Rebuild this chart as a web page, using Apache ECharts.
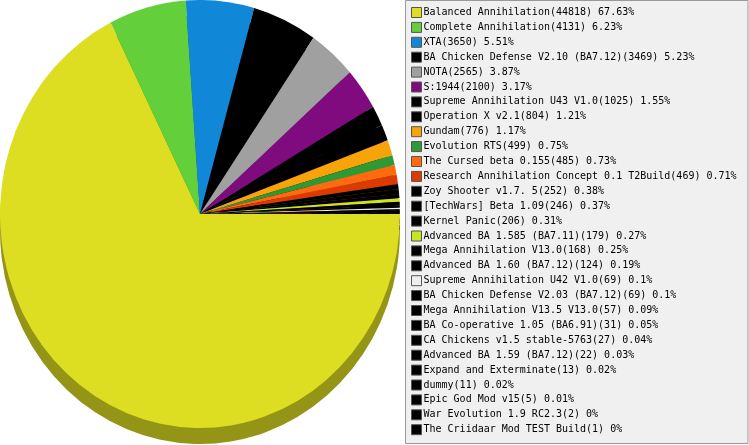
<!DOCTYPE html>
<html>
<head>
<meta charset="utf-8">
<script src="https://cdn.jsdelivr.net/npm/echarts@6/dist/echarts.min.js"></script>
<style>
  html, body { margin: 0; padding: 0; background: #fff; }
  #wrap { position: relative; width: 749px; height: 445px; overflow: hidden; }
  #pie { position: absolute; left: 0; top: 0; width: 400px; height: 416px;
         transform: scaleY(1.07); transform-origin: 0 0; }
  #legend { position: absolute; left: 400px; top: 0; width: 349px; height: 600px; }
</style>
</head>
<body>
<div id="wrap">
  <div id="pie"></div>
  <div id="legend"></div>
</div>
<script>
// mod names, games played, slice colour
const mods = [
  'Balanced Annihilation', 'Complete Annihilation', 'XTA',
  'BA Chicken Defense V2.10 (BA7.12)', 'NOTA', 'S:1944',
  'Supreme Annihilation U43 V1.0', 'Operation X v2.1', 'Gundam',
  'Evolution RTS', 'The Cursed beta 0.155', 'Research Annihilation Concept 0.1 T2Build',
  'Zoy Shooter v1.7. 5', '[TechWars] Beta 1.09', 'Kernel Panic',
  'Advanced BA 1.585 (BA7.11)', 'Mega Annihilation V13.0', 'Advanced BA 1.60 (BA7.12)',
  'Supreme Annihilation U42 V1.0', 'BA Chicken Defense V2.03 (BA7.12)', 'Mega Annihilation V13.5 V13.0',
  'BA Co-operative 1.05 (BA6.91)', 'CA Chickens v1.5 stable-5763', 'Advanced BA 1.59 (BA7.12)',
  'Expand and Exterminate', 'dummy', 'Epic God Mod v15',
  'War Evolution 1.9 RC2.3', 'The Criidaar Mod TEST Build'
];
const games = [
  44818, 4131, 3650,
  3469, 2565, 2100,
  1025, 804, 776,
  499, 485, 469,
  252, 246, 206,
  179, 168, 124,
  69, 69, 57,
  31, 27, 22,
  13, 11, 5,
  2, 1
];
const colors = [
  '#dddd22', '#63cf3a', '#1187d8',
  '#000000', '#a0a0a0', '#7f0b7f',
  '#000000', '#000000', '#f9a30b',
  '#2f9a35', '#ff6a10', '#dd3a00',
  '#000000', '#000000', '#000000',
  '#c8e61e', '#000000', '#000000',
  '#eeeeee', '#000000', '#000000',
  '#000000', '#000000', '#000000',
  '#000000', '#000000', '#000000',
  '#000000', '#000000'
];

const total = games.reduce((a, b) => a + b, 0);

function darker(hex) {
  let n = parseInt(hex.slice(1), 16);
  let r = Math.round(((n >> 16) & 255) * 0.67),
    g = Math.round(((n >> 8) & 255) * 0.67),
    b = Math.round((n & 255) * 0.67);
  return 'rgb(' + r + ',' + g + ',' + b + ')';
}

function pieData(shade) {
  return mods.map((m, i) => ({
    name: m,
    value: games[i],
    itemStyle: { color: shade ? darker(colors[i]) : colors[i] }
  }));
}

const base = {
  type: 'pie',
  radius: 200,
  startAngle: 0,
  clockwise: true,
  silent: true,
  avoidLabelOverlap: false,
  label: { show: false },
  labelLine: { show: false },
  emphasis: { disabled: true },
  itemStyle: { borderWidth: 0 }
};

// the pie, with a darker copy pushed down for the side wall
const pieChart = echarts.init(document.getElementById('pie'), null, { renderer: 'svg' });
pieChart.setOption({
  animation: false,
  series: [
    Object.assign({}, base, { center: [200, 215], data: pieData(true) }),
    Object.assign({}, base, { center: [200, 200], data: pieData(false) })
  ]
});

// legend box on the right
const byName = {};
mods.forEach((m, i) => byName[m] = games[i]);

const legendChart = echarts.init(document.getElementById('legend'));
legendChart.setOption({
  animation: false,
  graphic: [{
    type: 'rect',
    shape: { x: 5.5, y: 0.5, width: 342.5, height: 443 },
    style: { fill: '#f0f0f0', stroke: '#999999', lineWidth: 1 },
    z: -10
  }],
  legend: {
    orient: 'vertical',
    left: 11,
    top: 7,
    padding: 0,
    itemWidth: 10,
    itemHeight: 10,
    itemGap: 3.9,
    icon: 'rect',
    selectedMode: false,
    itemStyle: { borderColor: '#555555', borderWidth: 1 },
    textStyle: {
      fontFamily: 'DejaVu Sans Mono',
      fontSize: 10,
      color: '#000',
      padding: [0, 0, 0, -3]
    },
    formatter: function (name) {
      let v = byName[name];
      let pct = parseFloat((v / total * 100).toFixed(2));
      return name + '(' + v + ') ' + pct + '%';
    }
  },
  series: [Object.assign({}, base, { radius: 0, center: [-100, -100], data: pieData(false) })]
});
</script>
</body>
</html>
